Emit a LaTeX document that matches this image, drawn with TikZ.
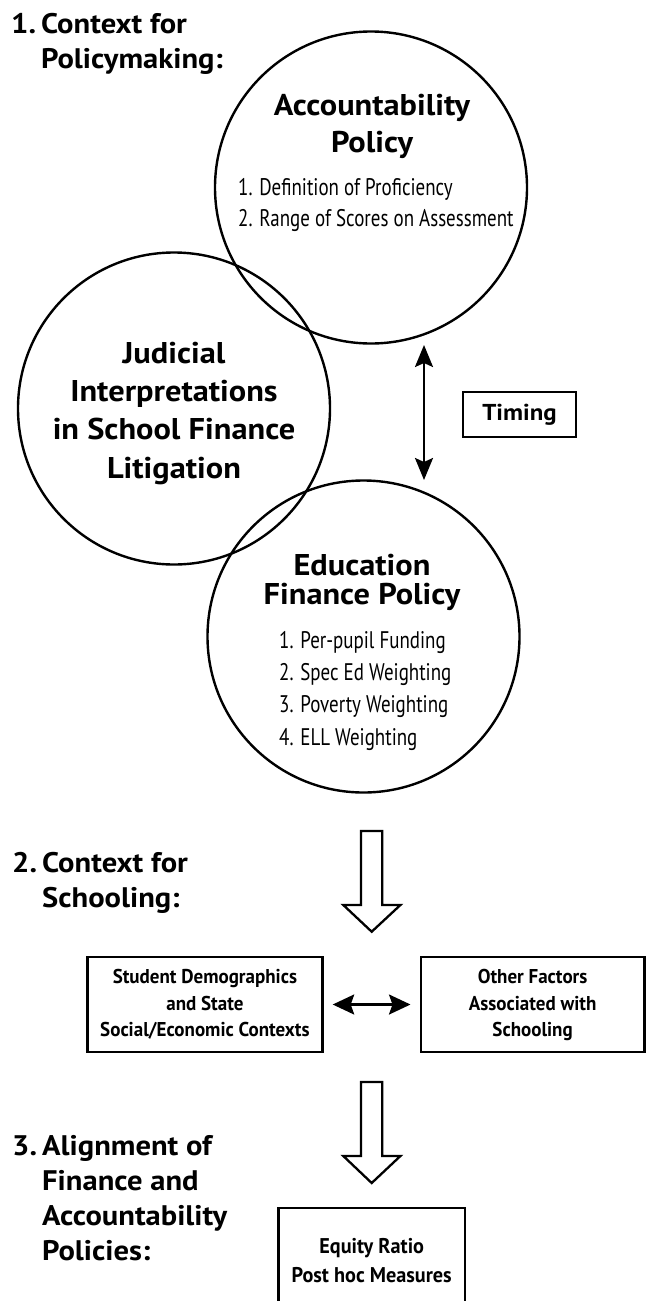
\documentclass[tikz,border=0pt]{standalone}
\usepackage{fontspec}
\setmainfont{PT Sans}[FakeStretch=1.08]
\newfontfamily\condfont[FakeStretch=0.79]{PT Sans}
\newfontfamily\condbfont[FakeStretch=0.95]{PT Sans}
\usetikzlibrary{arrows.meta}
\lineskiplimit=-100pt
\tikzset{
  ring/.style={circle, draw, line width=2.4pt, minimum size=312pt, inner sep=0pt},
  head/.style={anchor=north west, inner sep=0pt, align=left, font=\bfseries\fontsize{28.3}{35}\selectfont},
  title/.style={anchor=north, inner sep=0pt, align=center, font=\bfseries\fontsize{30}{37}\selectfont},
  item/.style={anchor=north west, inner sep=0pt, align=left, font=\condfont\fontsize{24}{31.7}\selectfont},
  box/.style={draw, line width=2.4pt, rectangle, inner sep=0pt, align=center, font=\condbfont\bfseries\fontsize{20}{26.7}\selectfont},
  dbl/.style={{Stealth[length=22pt,width=18pt,inset=4pt]}-{Stealth[length=22pt,width=18pt,inset=4pt]}, line width=2.4pt},
  dblh/.style={{Stealth[length=21.5pt,width=20pt,inset=3.5pt]}-{Stealth[length=21.5pt,width=20pt,inset=3.5pt]}, line width=2.3pt},
  hollow/.style={draw, line width=2.3pt, line join=miter}
}
\begin{document}
\begin{tikzpicture}[x=1pt,y=-1pt]
\useasboundingbox (0,0) rectangle (646,1301);
\clip (0,0) rectangle (646,1301);
% section headings
\node[head] (h1) at (11,5) {\rule{0pt}{1em}\makebox[30pt][l]{1.}Context for\\\hspace*{30pt}Policymaking:};
\node[head] (h2) at (12,844) {\rule{0pt}{1em}\makebox[30pt][l]{2.}Context for\\\hspace*{30pt}Schooling:};
\node[head] (h3) at (12,1127) {\rule{0pt}{1em}\makebox[30pt][l]{3.}Alignment of\\\hspace*{30pt}Finance and\\\hspace*{30pt}Accountability\\\hspace*{30pt}Policies:};
% circles
\node[ring] (acc) at (371,187.5) {};
\node[ring] (jud) at (174,408.5) {};
\node[ring] (edu) at (363.5,636.5) {};
% circle texts
\node[title] (acct) at (372,85) {\rule{0pt}{1em}Accountability\\Policy};
\node[item] (accl) at (238,171) {\rule{0pt}{1em}1. Definition of Proficiency\\2. Range of Scores on Assessment};
\node[title, font=\bfseries\fontsize{30}{38.3}\selectfont] (judt) at (174,333) {\rule{0pt}{1em}Judicial\\Interpretations\\in School Finance\\Litigation};
\node[title, font=\bfseries\fontsize{30}{29}\selectfont] (edut) at (362,545) {\rule{0pt}{1em}Education\\Finance Policy};
\node[item, font=\condfont\fontsize{24}{32.3}\selectfont] (edul) at (279,624) {\rule{0pt}{1em}1. Per-pupil Funding\\2. Spec Ed Weighting\\3. Poverty Weighting\\4. ELL Weighting};
% timing
\node[draw, line width=2.4pt, minimum width=113.5pt, minimum height=45.5pt, inner sep=0pt, font=\bfseries\fontsize{23}{29}\selectfont] (timing) at (519.5,414.5) {Timing};
\coordinate (ta) at (424,345);
\coordinate (tb) at (424,480);
\draw[dbl] (ta) -- (tb);
% hollow arrow 1
\draw[hollow] (361,831) -- (361,905) -- (343.3,905) -- (371.7,931.7) -- (400.4,905) -- (382.3,905) -- (382.3,831) -- cycle;
% boxes
\node[box, minimum width=234.8pt, minimum height=95pt] (lb) at (204.9,1004.5) {\rule{0pt}{1em}Student Demographics\\and State\\Social/Economic Contexts\rule[-9pt]{0pt}{9pt}};
\node[box, minimum width=223.8pt, minimum height=95pt] (rb) at (532.6,1004.5) {\rule{0pt}{1em}Other Factors\\Associated with\\Schooling\rule[-9pt]{0pt}{9pt}};
\draw[dblh, shorten <=9.2pt, shorten >=9pt] (lb.east) -- (rb.west);
% hollow arrow 2
\draw[hollow] (361,1082) -- (361,1156) -- (343.3,1156) -- (371.7,1183) -- (400.4,1156) -- (382.3,1156) -- (382.3,1082) -- cycle;
% equity box
\node[box, minimum width=186.7pt, minimum height=100pt, font=\condbfont\bfseries\fontsize{21.3}{29}\selectfont] (eq) at (371.7,1258) {\rule{0pt}{1em}Equity Ratio\\Post hoc Measures\rule[-2.3pt]{0pt}{2.3pt}};
\end{tikzpicture}
\end{document}
